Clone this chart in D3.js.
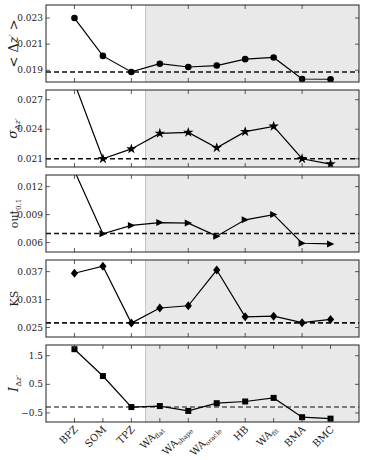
<!DOCTYPE html>
<html>
<head>
<meta charset="utf-8">
<script src="https://cdn.jsdelivr.net/npm/d3@7"></script>
<style>
  body { margin: 0; background: #fff; }
  text { font-family: "DejaVu Serif", "Liberation Serif", serif; fill: #222; }
</style>
</head>
<body>
<script>
// categories (base name + subscript)
let catBase = ['BPZ', 'SOM', 'TPZ', 'WA', 'WA', 'WA', 'HB', 'WA', 'BMA', 'BMC'];
let catSub  = ['', '', '', 'flat', 'shape', 'oracle', '', 'fit', '', ''];

// series values
let meanDz  = [0.0230, 0.0201, 0.01887, 0.0195, 0.01925, 0.01936, 0.01985, 0.01998, 0.01833, 0.01831];
let sigmaDz = [0.0287, 0.0210, 0.0220, 0.02358, 0.02368, 0.02212, 0.02375, 0.0243, 0.0210, 0.02046];
let out01   = [0.0137, 0.00694, 0.00784, 0.00815, 0.00809, 0.00669, 0.00844, 0.0090, 0.00593, 0.00586];
let ksVals  = [0.03665, 0.03817, 0.02596, 0.0292, 0.02967, 0.03735, 0.0273, 0.02745, 0.02605, 0.02674];
let iDz     = [1.728, 0.79, -0.295, -0.26, -0.43, -0.16, -0.1, 0.026, -0.65, -0.7];

// reference (dashed) levels
let refLevels = [0.01887, 0.0210, 0.00697, 0.0260, -0.29];

// tick labels
let ticks1 = [0.019, 0.021, 0.023];
let ticks2 = [0.021, 0.024, 0.027];
let ticks3 = [0.006, 0.009, 0.012];
let ticks4 = [0.025, 0.031, 0.037];
let ticks5 = [-0.5, 0.5, 1.5];

let width = 366, height = 460;
let margin = {left: 46, right: 7};
let panelH = 77, panelStep = 85, top0 = 5;

let svg = d3.select('body').append('svg').attr('width', width).attr('height', height);

let xScale = d3.scaleLinear().domain([-1, 10]).range([margin.left, width - margin.right]);

let tri = 'M-3.5,-3.5L3.8,0L-3.5,3.5Z';
let diamond = 'M0,-4.5L3.6,0L0,4.5L-3.6,0Z';

let panels = [
  {vals: meanDz, ref: refLevels[0], dom: [0.0181, 0.0240], ticks: ticks1, fmt: d3.format('.3f'), shape: 'circle', refColor: '#111'},
  {vals: sigmaDz, ref: refLevels[1], dom: [0.02016, 0.02799], ticks: ticks2, fmt: d3.format('.3f'), shape: 'star', refColor: '#111'},
  {vals: out01, ref: refLevels[2], dom: [0.00499, 0.01325], ticks: ticks3, fmt: d3.format('.3f'), shape: 'tri', refColor: '#111'},
  {vals: ksVals, ref: refLevels[3], dom: [0.02297, 0.0395], ticks: ticks4, fmt: d3.format('.3f'), shape: 'diamond', refColor: '#111'},
  {vals: iDz, ref: refLevels[4], dom: [-0.817, 1.875], ticks: ticks5, fmt: d => (d < 0 ? '\u2212' : '') + Math.abs(d).toFixed(1), shape: 'square', refColor: '#555'}
];

let x0 = xScale(-1), x1 = xScale(10);

panels.forEach((p, i) => {
  let top = top0 + i * panelStep, bottom = top + panelH;
  let y = d3.scaleLinear().domain(p.dom).range([bottom, top]);
  let g = svg.append('g');

  g.append('clipPath').attr('id', 'clip' + i).append('rect')
    .attr('x', x0).attr('y', top).attr('width', x1 - x0).attr('height', panelH);

  // shaded region
  g.append('rect').attr('x', xScale(2.5)).attr('y', top).attr('width', x1 - xScale(2.5)).attr('height', panelH)
    .attr('fill', '#e9e9e9');
  g.append('line').attr('x1', xScale(2.5)).attr('x2', xScale(2.5)).attr('y1', top).attr('y2', bottom)
    .attr('stroke', '#c4c4c4').attr('stroke-width', 1);

  let plot = g.append('g').attr('clip-path', `url(#clip${i})`);

  // dashed reference
  plot.append('line').attr('x1', x0).attr('x2', x1).attr('y1', y(p.ref)).attr('y2', y(p.ref))
    .attr('stroke', p.refColor).attr('stroke-width', 1.6).attr('stroke-dasharray', '5,3');

  let line = d3.line().x((d, j) => xScale(j)).y(d => y(d));
  plot.append('path').datum(p.vals).attr('d', line).attr('fill', 'none')
    .attr('stroke', '#000').attr('stroke-width', 1.2);

  let m = plot.selectAll('.m').data(p.vals).enter();
  if (p.shape === 'circle') {
    m.append('circle').attr('cx', (d, j) => xScale(j)).attr('cy', d => y(d)).attr('r', 3.3).attr('fill', '#000');
  } else if (p.shape === 'square') {
    m.append('rect').attr('x', (d, j) => xScale(j) - 3).attr('y', d => y(d) - 3)
      .attr('width', 6).attr('height', 6).attr('fill', '#000');
  } else {
    let dpath = p.shape === 'star' ? d3.symbol(d3.symbolStar, 34)() : p.shape === 'tri' ? tri : diamond;
    m.append('path').attr('d', dpath)
      .attr('transform', (d, j) => `translate(${xScale(j)},${y(d)})`).attr('fill', '#000');
  }

  // x ticks (inward, top and bottom)
  let xt = i === 4 ? d3.range(10) : [0, 2, 4, 6, 8];
  xt.forEach(t => {
    g.append('line').attr('x1', xScale(t)).attr('x2', xScale(t)).attr('y1', bottom).attr('y2', bottom - 4)
      .attr('stroke', '#333').attr('stroke-width', 0.8);
    g.append('line').attr('x1', xScale(t)).attr('x2', xScale(t)).attr('y1', top).attr('y2', top + 4)
      .attr('stroke', '#333').attr('stroke-width', 0.8);
  });

  // y ticks (inward, left and right) + labels
  p.ticks.forEach(t => {
    g.append('line').attr('x1', x0).attr('x2', x0 + 4).attr('y1', y(t)).attr('y2', y(t))
      .attr('stroke', '#333').attr('stroke-width', 0.8);
    g.append('line').attr('x1', x1).attr('x2', x1 - 4).attr('y1', y(t)).attr('y2', y(t))
      .attr('stroke', '#333').attr('stroke-width', 0.8);
    g.append('text').attr('x', x0 - 3).attr('y', y(t)).attr('dy', '0.35em')
      .attr('text-anchor', 'end').style('font-size', '9px').text(p.fmt(t));
  });

  // frame
  g.append('rect').attr('x', x0).attr('y', top).attr('width', x1 - x0).attr('height', panelH)
    .attr('fill', 'none').attr('stroke', '#222').attr('stroke-width', 1);
});

// y-axis labels
function yLabel(i, xPos, build) {
  let cy = top0 + i * panelStep + panelH / 2;
  let t = svg.append('text').attr('transform', `translate(${xPos},${cy}) rotate(-90)`)
    .attr('text-anchor', 'middle').style('font-size', '13px');
  build(t);
}
yLabel(0, 18, t => {
  t.append('tspan').text('<  \u0394');
  t.append('tspan').style('font-style', 'italic').text('z');
  t.append('tspan').attr('dy', -4).style('font-size', '8px').text('\u2032');
  t.append('tspan').attr('dy', 4).text('  >');
});
yLabel(1, 17, t => {
  t.append('tspan').style('font-style', 'italic').text('\u03c3');
  t.append('tspan').attr('dy', 3).style('font-size', '8px').text('\u0394');
  t.append('tspan').attr('dy', 0).style('font-size', '8px').style('font-style', 'italic').text('z\u2032');
});
yLabel(2, 18, t => {
  t.style('font-size', '11px');
  t.append('tspan').text('out');
  t.append('tspan').attr('dy', 3).style('font-size', '7px').text('0.1');
});
yLabel(3, 18, t => { t.style('font-size', '11px').text('KS'); });
yLabel(4, 18, t => {
  t.append('tspan').style('font-style', 'italic').text('I');
  t.append('tspan').attr('dy', 3).style('font-size', '8px').text('\u0394');
  t.append('tspan').style('font-size', '8px').style('font-style', 'italic').text('z\u2032');
});

// x tick labels (rotated)
let labY = top0 + 4 * panelStep + panelH + 8;
catBase.forEach((b, j) => {
  let t = svg.append('text').attr('transform', `translate(${xScale(j) + 4},${labY}) rotate(-45)`)
    .attr('text-anchor', 'end').style('font-size', '10px');
  t.append('tspan').text(b);
  if (catSub[j]) t.append('tspan').attr('dy', 2).style('font-size', '6.5px').text(catSub[j]);
});
</script>
</body>
</html>
